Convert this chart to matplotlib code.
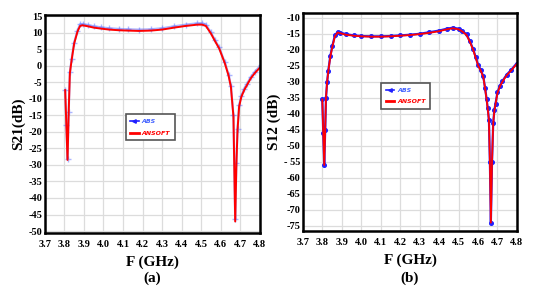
import matplotlib.pyplot as plt
from matplotlib.lines import Line2D

# (a) S21
s21_freq = [3.804, 3.810, 3.816, 3.822, 3.828, 3.837, 3.850, 3.867, 3.880, 3.893,
            3.920, 3.950, 3.987, 4.030, 4.080, 4.123, 4.180, 4.242, 4.300, 4.362,
            4.420, 4.481, 4.505, 4.524, 4.549, 4.570, 4.592, 4.621, 4.640, 4.652,
            4.665, 4.674, 4.680, 4.686, 4.694, 4.705, 4.720, 4.735, 4.754, 4.775,
            4.805]
s21_ansoft = [-7.4, -18.0, -28.5, -14.0, -2.3, 1.7, 6.7, 10.3, 12.0, 12.2,
              11.9, 11.5, 11.2, 10.9, 10.7, 10.6, 10.5, 10.6, 10.9, 11.5,
              12.0, 12.4, 12.4, 12.0, 9.8, 7.5, 5.2, 0.7, -3.0, -6.4,
              -15.4, -47.1, -30.0, -19.4, -12.4, -9.5, -7.4, -5.8, -3.8, -2.2,
              -0.3]
s21_abs = [-7.4, -18.0, -28.2, -14.0, -2.0, 2.0, 7.0, 10.6, 12.5, 12.6,
           12.3, 11.9, 11.6, 11.3, 11.1, 11.0, 10.9, 11.0, 11.3, 11.9,
           12.4, 12.8, 12.8, 12.4, 10.1, 7.8, 5.5, 1.0, -2.7, -6.1,
           -15.0, -46.5, -29.5, -19.0, -12.0, -9.1, -7.0, -5.4, -3.4, -1.8,
           0.1]

# (b) S12
s12_freq = [3.799, 3.804, 3.809, 3.814, 3.818, 3.824, 3.830, 3.840, 3.851, 3.864,
            3.878, 3.890, 3.920, 3.960, 4.000, 4.050, 4.100, 4.150, 4.200, 4.250,
            4.300, 4.350, 4.400, 4.440, 4.470, 4.500, 4.520, 4.541, 4.558, 4.575,
            4.588, 4.601, 4.614, 4.627, 4.636, 4.644, 4.650, 4.656, 4.661, 4.666,
            4.672, 4.678, 4.684, 4.690, 4.700, 4.712, 4.725, 4.747, 4.770, 4.798]
s12_ansoft = [-35.5, -46.0, -56.0, -45.0, -35.0, -30.0, -26.7, -22.3, -19.0, -15.8,
              -14.6, -14.8, -15.3, -15.6, -15.8, -15.9, -15.9, -15.8, -15.6, -15.4,
              -15.1, -14.7, -14.2, -13.6, -13.3, -13.6, -14.3, -15.4, -17.5, -20.0,
              -22.5, -25.0, -26.5, -28.5, -32.0, -35.5, -38.5, -42.0, -55.0, -74.0,
              -55.0, -43.0, -39.0, -37.0, -33.5, -31.5, -30.0, -28.0, -26.5, -24.5]
s12_abs = [-35.5, -46.0, -56.0, -45.0, -35.0, -30.0, -26.5, -22.0, -18.7, -15.5,
           -14.4, -14.6, -15.1, -15.5, -15.7, -15.8, -15.8, -15.7, -15.5, -15.3,
           -15.0, -14.5, -14.0, -13.4, -13.1, -13.4, -14.1, -15.2, -17.3, -19.8,
           -22.3, -24.8, -26.3, -28.3, -31.8, -35.3, -38.3, -41.8, -55.0, -74.0,
           -55.0, -43.0, -38.8, -36.8, -33.3, -31.3, -29.8, -27.8, -26.3, -24.3]

xticks = [3.7, 3.8, 3.9, 4.0, 4.1, 4.2, 4.3, 4.4, 4.5, 4.6, 4.7, 4.8]
s21_yticks = list(range(15, -55, -5))
s12_yticks = list(range(-10, -80, -5))
s12_ylabels = [str(v) if v != -55 else "- 55" for v in s12_yticks]

plt.rcParams['font.family'] = ['Liberation Serif', 'DejaVu Serif']
plt.rcParams['font.weight'] = 'bold'


def setup(ax, yticks, ylabels, ylim, ylabel, tag):
    ax.set_xlim(3.7, 4.8)
    ax.set_ylim(*ylim)
    ax.set_xticks(xticks)
    ax.set_xticklabels(["%.1f" % v for v in xticks], fontsize=7.5, fontweight='bold')
    ax.set_yticks(yticks)
    ax.set_yticklabels(ylabels, fontsize=7.5, fontweight='bold')
    ax.tick_params(length=0, pad=2)
    ax.tick_params(axis='x', pad=5)
    ax.grid(True, color='#dcdcdc', linewidth=0.9)
    for s in ax.spines.values():
        s.set_linewidth(1.8)
    ax.set_xlabel("F (GHz)", fontsize=11, fontweight='bold', labelpad=5)
    ax.set_ylabel(ylabel, fontsize=11, fontweight='bold', labelpad=2)
    # panel tag under the x label
    pos = ax.get_position()
    fig.text(pos.x0 + pos.width / 2, 0.058, tag, ha='center', va='center',
             fontsize=11, fontweight='bold')


def add_legend(ax, loc):
    handles = [Line2D([], [], color='#1f1fff', marker='<', markersize=2.5, lw=1.2),
               Line2D([], [], color='red', lw=2)]
    leg = ax.legend(handles, ["ABS", "ANSOFT"], loc='center', bbox_to_anchor=loc,
                    prop={'family': 'DejaVu Sans', 'style': 'italic', 'size': 4.5},
                    handlelength=1.4, handletextpad=0.5, fancybox=False, framealpha=1,
                    edgecolor='#555555', borderpad=0.7, labelspacing=1.0)
    leg.get_frame().set_linewidth(1.2)
    leg.get_texts()[0].set_color('#4060ff')
    leg.get_texts()[1].set_color('red')


fig = plt.figure(figsize=(5.47, 2.95), dpi=100)

ax1 = fig.add_axes([0.082, 0.21, 0.393, 0.739])
ax1.plot(s21_freq, s21_abs, color='#5a6cff', lw=1.6, marker='+', markersize=4,
         alpha=0.5)
ax1.plot(s21_freq, s21_ansoft, color='red', lw=1.4)
setup(ax1, s21_yticks, [str(v) for v in s21_yticks], (-50.6, 15.3), "S21(dB)", "(a)")
add_legend(ax1, (0.49, 0.485))

ax2 = fig.add_axes([0.554, 0.217, 0.391, 0.739])
ax2.plot(s12_freq, s12_abs, color='#2020ff', lw=1.6, marker='o', markersize=2.6)
ax2.plot(s12_freq, s12_ansoft, color='red', lw=1.3)
setup(ax2, s12_yticks, s12_ylabels, (-76.6, -8.5), "S12 (dB)", "(b)")
add_legend(ax2, (0.48, 0.62))

fig.savefig("out.png", dpi=100)
